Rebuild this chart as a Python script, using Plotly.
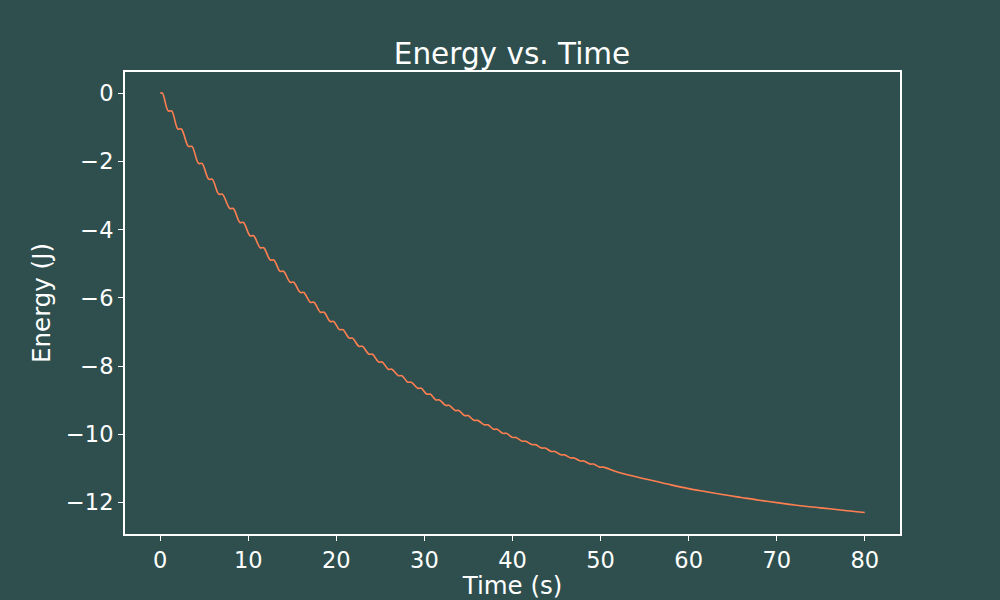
import plotly.graph_objects as go

# Energy curve (flat segments of each ripple, then the smooth tail)
time_s = [
    0.00, 0.25, 0.90, 1.30, 2.00, 2.40, 3.20, 3.60, 4.35, 4.75,
    5.50, 5.90, 6.65, 7.05, 7.90, 8.30, 9.05, 9.45, 10.20, 10.60,
    11.35, 11.75, 12.50, 12.90, 13.60, 14.00, 14.75, 15.15, 15.90, 16.30,
    17.05, 17.45, 18.20, 18.60, 19.30, 19.70, 20.35, 20.75, 21.45, 21.85,
    22.55, 22.95, 23.70, 24.10, 24.80, 25.20, 25.90, 26.30, 27.05, 27.45,
    28.10, 28.50, 29.25, 29.65, 30.25, 30.65, 31.30, 31.70, 32.40, 32.80,
    33.50, 33.90, 34.55, 34.95, 35.65, 36.05, 36.80, 37.20, 37.85, 38.25,
    38.90, 39.30, 40.00, 40.40, 41.10, 41.50, 42.20, 42.60, 43.30, 43.70,
    44.40, 44.80, 45.50, 45.90, 46.60, 47.00, 47.70, 48.10, 48.80, 49.20,
    49.90, 50.30,
    52, 54, 56, 58, 60, 62, 64, 66, 68, 70,
    72, 74, 76, 78, 80,
]
energy_j = [
    0.00, 0.00, -0.52, -0.52, -1.05, -1.05, -1.56, -1.56, -2.06, -2.06,
    -2.52, -2.52, -2.96, -2.96, -3.38, -3.38, -3.79, -3.79, -4.18, -4.18,
    -4.53, -4.53, -4.89, -4.89, -5.22, -5.22, -5.54, -5.54, -5.84, -5.84,
    -6.13, -6.13, -6.42, -6.42, -6.69, -6.69, -6.93, -6.93, -7.18, -7.18,
    -7.42, -7.42, -7.65, -7.65, -7.88, -7.88, -8.09, -8.09, -8.28, -8.28,
    -8.47, -8.47, -8.65, -8.65, -8.82, -8.82, -8.99, -8.99, -9.15, -9.15,
    -9.30, -9.30, -9.45, -9.45, -9.59, -9.59, -9.72, -9.72, -9.85, -9.85,
    -9.97, -9.97, -10.09, -10.09, -10.20, -10.20, -10.30, -10.30, -10.40, -10.40,
    -10.50, -10.50, -10.60, -10.60, -10.69, -10.69, -10.78, -10.78, -10.87, -10.87,
    -10.96, -10.96,
    -11.11, -11.24, -11.36, -11.48, -11.59, -11.68, -11.77, -11.85, -11.93, -12.00,
    -12.07, -12.13, -12.18, -12.24, -12.29,
]

x_ticks = [0, 10, 20, 30, 40, 50, 60, 70, 80]
y_ticks = [0, -2, -4, -6, -8, -10, -12]

BG = "#2F4F4F"
FONT = "DejaVu Sans"

fig = go.Figure()
fig.add_trace(go.Scatter(
    x=time_s, y=energy_j, mode="lines",
    line=dict(color="#FF7F50", width=1.6, shape="spline", smoothing=1.0),
    showlegend=False, hoverinfo="skip",
))

axis_common = dict(
    showgrid=False, zeroline=False, automargin=False,
    showline=True, linecolor="white", linewidth=2, mirror=True,
    ticks="outside", ticklen=5, tickwidth=1.2, tickcolor="white",
    tickfont=dict(family=FONT, size=22.5, color="white"),
)

fig.update_layout(
    width=1000, height=600,
    paper_bgcolor=BG, plot_bgcolor=BG,
    margin=dict(l=125, r=100, t=72, b=66, autoexpand=False),
    font=dict(family=FONT, color="white"),
    title=dict(text="Energy vs. Time", x=0.512, xanchor="center",
               y=1 - 54 / 600, yanchor="middle", yref="container",
               font=dict(family=FONT, size=29.5, color="white")),
    xaxis=dict(range=[-4, 84], tickvals=x_ticks,
               title=dict(text="Time (s)", font=dict(family=FONT, size=24.5, color="white"), standoff=18),
               **axis_common),
    yaxis=dict(range=[-12.92, 0.62], tickvals=y_ticks,
               title=dict(text="Energy (J)", font=dict(family=FONT, size=24.5, color="white"), standoff=8),
               **axis_common),
)

fig.write_html(
    "out.html",
    config={"displayModeBar": False},
    post_script="document.body.style.margin='0';document.body.style.overflow='hidden';"
                "document.documentElement.style.overflow='hidden';",
)
